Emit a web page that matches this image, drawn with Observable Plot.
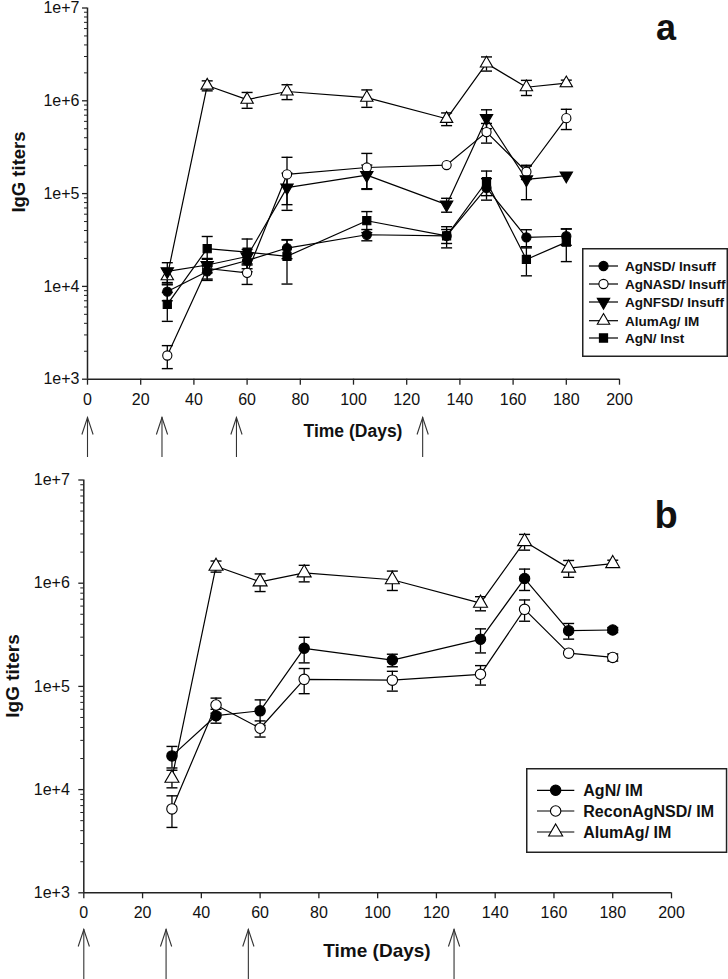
<!DOCTYPE html>
<html><head><meta charset="utf-8">
<script src="https://cdn.jsdelivr.net/npm/d3@7"></script>
<script src="https://cdn.jsdelivr.net/npm/@observablehq/plot@0.6"></script>
<style>
body{margin:0;background:#fff;}
#wrap{position:relative;width:728px;height:979px;overflow:hidden;font-family:"Liberation Sans",Arial,Helvetica,sans-serif;color:#111;}
.abs{position:absolute;line-height:1;white-space:nowrap;font-weight:bold;}
.c{transform:translate(-50%,-50%);}
.rot{transform:translate(-50%,-50%) rotate(-90deg);}
svg.panel text{font-size:16px !important;font-family:"Liberation Sans",Arial,sans-serif !important;fill:#111;}
</style></head><body><div id="wrap"></div>
<script>
// ---------- DATA ----------
const days = [30, 45, 60, 75, 105, 135, 150, 165, 180];
const immunizationDays = [0, 28, 56, 126];
const majorTicks = [1e3, 1e4, 1e5, 1e6, 1e7];
const xTicks = [0, 20, 40, 60, 80, 100, 120, 140, 160, 180, 200];

// Panel a
const seriesA = ["AgNSD/ Insuff", "AgNASD/ Insuff", "AgNFSD/ Insuff", "AlumAg/ IM", "AgN/ Inst"];
const agNSD_Insuff      = [8800, 14500, 19000, 25900, 36000, 35000, 115000, 33800, 34700];
const agNSD_Insuff_err  = [1800, 2500, 3500, 6000, 5000, 6000, 30000, 7000, 7000];
const agNASD_Insuff     = [1800, 15600, 14000, 161000, 191000, 203000, 460000, 172000, 650000];
const agNASD_Insuff_err = [500, 4000, 3500, 85000, 80000, null, 110000, 30000, 160000];
const agNFSD_Insuff     = [14500, 17000, 21000, 116000, 158000, 76000, 650000, 142000, 156000];
const agNFSD_Insuff_err = [3500, 3000, 4000, 50000, 45000, 13000, 150000, 56000, null];
const alumAg_IM         = [12900, 1460000, 1030000, 1260000, 1080000, 640000, 2530000, 1400000, 1550000];
const alumAg_IM_err     = [2500, 180000, 200000, 230000, 230000, 100000, 440000, 260000, 120000];
const agN_Inst          = [6400, 25500, 23400, 21100, 51000, 35000, 135000, 19500, 30000];
const agN_Inst_err      = [2200, 9000, 9000, 10500, 13000, 9000, 40000, 6500, 11500];

// Panel b
const seriesB = ["AgN/ IM", "ReconAgNSD/ IM", "AlumAg/ IM"];
const agN_IM            = [21200, 52000, 58000, 234000, 180000, 286000, 1110000, 347000, 352000];
const agN_IM_err        = [5000, 8000, 16000, 65000, 25000, 75000, 260000, 60000, 20000];
const reconAgNSD_IM     = [6500, 66000, 39300, 117000, 115000, 131000, 558000, 210000, 191000];
const reconAgNSD_IM_err = [2200, 11000, 7000, 32000, 25000, 28000, 130000, null, 15000];

// ---------- SYMBOLS ----------
const sqrt3 = Math.sqrt(3);
const triangleDown = {draw(ctx, size) {
  const y = -Math.sqrt(size / (sqrt3 * 3));
  ctx.moveTo(0, -y * 2); ctx.lineTo(-sqrt3 * y, y); ctx.lineTo(sqrt3 * y, y); ctx.closePath();
}};
const capSym = {draw(ctx, size) { const r = Math.sqrt(size / Math.PI); ctx.moveTo(-r, 0); ctx.lineTo(r, 0); }};
// open "V" arrow head, tip at the anchor point, pointing up
const headSym = {draw(ctx, size) {
  const r = Math.sqrt(size / Math.PI);
  ctx.moveTo(-r * 0.33, r); ctx.lineTo(0, 0); ctx.lineTo(r * 0.33, r);
}};
const styles = {
  "AgNSD/ Insuff":  {symbol: "circle", fill: "black"},
  "AgNASD/ Insuff": {symbol: "circle", fill: "white"},
  "AgNFSD/ Insuff": {symbol: triangleDown, fill: "black"},
  "AlumAg/ IM":     {symbol: "triangle", fill: "white"},
  "AgN/ Inst":      {symbol: "square", fill: "black"},
  "AgN/ IM":        {symbol: "circle", fill: "black"},
  "ReconAgNSD/ IM": {symbol: "circle", fill: "white"}
};

function rowsOf(list) {
  const rows = [];
  for (const [name, vals, errs] of list)
    vals.forEach((v, i) => rows.push({series: name, day: days[i], value: v, err: errs[i]}));
  return rows;
}
const rowsA = rowsOf([
  ["AgNSD/ Insuff", agNSD_Insuff, agNSD_Insuff_err],
  ["AgNASD/ Insuff", agNASD_Insuff, agNASD_Insuff_err],
  ["AgNFSD/ Insuff", agNFSD_Insuff, agNFSD_Insuff_err],
  ["AlumAg/ IM", alumAg_IM, alumAg_IM_err],
  ["AgN/ Inst", agN_Inst, agN_Inst_err]
]);
const rowsB = rowsOf([
  ["AgN/ IM", agN_IM, agN_IM_err],
  ["ReconAgNSD/ IM", reconAgNSD_IM, reconAgNSD_IM_err],
  ["AlumAg/ IM", alumAg_IM, alumAg_IM_err]
]);

const minorTicks = [];
for (let e = 3; e < 7; e++) for (let k = 2; k <= 9; k++) minorTicks.push(k * 10 ** e);

function panel(rows, order, o) {
  const ymin = 1e3, ymax = 1e7;
  const pxPerDecade = (o.height - o.mt - o.mb) / 4;
  const below = px => ymin * 10 ** (-px / pxPerDecade);
  const withErr = rows.filter(d => d.err != null);
  const marks = [
    Plot.ruleX([0], {y1: ymin, y2: ymax, stroke: "#222", strokeWidth: 1.5}),
    Plot.ruleY([ymin], {x1: 0, x2: 200, stroke: "#222", strokeWidth: 1.5}),
    Plot.axisY({ticks: majorTicks, tickSize: 5, tickPadding: o.yPad, tickFormat: d => d.toExponential(0), label: null, stroke: "#222", strokeWidth: 1.3, fontSize: 16}),
    Plot.axisY({ticks: minorTicks, tickSize: 3, tickFormat: () => "", label: null, stroke: "#222"}),
    Plot.axisX({ticks: xTicks, tickSize: 6, tickPadding: 8, label: null, stroke: "#222", strokeWidth: 1.3, fontSize: 16}),
    Plot.ruleX(immunizationDays, {x: d => d, y1: below(o.arrowTip), y2: below(o.arrowTail), stroke: "#333", strokeWidth: 1.1}),
    Plot.dot(immunizationDays, {x: d => d, y: below(o.arrowTip), symbol: headSym, r: 17, stroke: "#333", fill: "none", strokeWidth: 1.1}),
    Plot.line(rows, {x: "day", y: "value", z: "series", stroke: "black", strokeWidth: 1.2}),
    Plot.ruleX(withErr, {x: "day", y1: d => d.value - d.err, y2: d => d.value + d.err, stroke: "black", strokeWidth: 1.3}),
    Plot.dot(withErr, {x: "day", y: d => d.value + d.err, symbol: capSym, r: 5.5, stroke: "black", fill: "none", strokeWidth: 1.4}),
    Plot.dot(withErr, {x: "day", y: d => d.value - d.err, symbol: capSym, r: 5.5, stroke: "black", fill: "none", strokeWidth: 1.4})
  ];
  for (const name of order) {
    const s = styles[name];
    marks.push(Plot.dot(rows.filter(d => d.series === name), {x: "day", y: "value", symbol: s.symbol, r: o.r, fill: s.fill, stroke: "black", strokeWidth: 1.1}));
  }
  const svg = Plot.plot({
    width: 728, height: o.height,
    marginTop: o.mt, marginBottom: o.mb, marginLeft: o.ml, marginRight: o.mr,
    x: {domain: [0, 200], label: null},
    y: {type: "log", domain: [ymin, ymax], label: null},
    style: {fontSize: "16px", fontFamily: "'Liberation Sans', Arial, sans-serif", color: "#111", background: "transparent", overflow: "visible"},
    marks
  });
  svg.classList.add("panel");
  return svg;
}

const wrap = document.getElementById("wrap");
function place(node, top) {
  node.style.position = "absolute"; node.style.left = "0px"; node.style.top = top + "px";
  wrap.appendChild(node);
}
place(panel(rowsA, ["AlumAg/ IM", "AgNASD/ Insuff", "AgNFSD/ Insuff", "AgNSD/ Insuff", "AgN/ Inst"],
  {height: 470, mt: 7.5, mb: 91.3, ml: 87, mr: 109, r: 4.6, yPad: 3, arrowTip: 38.3, arrowTail: 78.3}), 0);
place(panel(rowsB, ["AlumAg/ IM", "ReconAgNSD/ IM", "AgN/ IM"],
  {height: 509, mt: 9.5, mb: 86.7, ml: 83.3, mr: 57, r: 5.2, yPad: 9, arrowTip: 36.7, arrowTail: 95}), 470);

// ---------- TEXT LABELS ----------
function label(text, x, y, size, cls) {
  const d = document.createElement("div");
  d.className = "abs " + cls; d.textContent = text;
  d.style.left = x + "px"; d.style.top = y + "px"; d.style.fontSize = size + "px";
  wrap.appendChild(d);
}
label("IgG titers", 19, 172, 18.5, "rot");
label("Time (Days)", 353, 432, 17.5, "c");
label("a", 666, 28, 36, "c");
label("IgG titers", 12, 676, 19, "rot");
label("Time (Days)", 377, 950, 19, "c");
label("b", 666, 515, 38, "c");

// ---------- LEGENDS ----------
function legend(names, o) {
  const svg = d3.create("svg").attr("width", o.w).attr("height", o.h)
    .style("position", "absolute").style("left", o.x + "px").style("top", o.y + "px").style("overflow", "visible");
  svg.append("rect").attr("x", 0.75).attr("y", 0.75).attr("width", o.w - 1.5).attr("height", o.h - 1.5)
    .attr("fill", "white").attr("stroke", "#222").attr("stroke-width", 1.5);
  names.forEach((name, i) => {
    const cy = o.rows[i];
    const s = styles[name];
    svg.append("line").attr("x1", o.l0).attr("x2", o.l1).attr("y1", cy).attr("y2", cy).attr("stroke", "black").attr("stroke-width", 1.2);
    const sym = typeof s.symbol === "string" ? {circle: d3.symbolCircle, triangle: d3.symbolTriangle, square: d3.symbolSquare}[s.symbol] : s.symbol;
    svg.append("path").attr("d", d3.symbol(sym, o.r * o.r * Math.PI)()).attr("transform", `translate(${(o.l0 + o.l1) / 2},${cy})`)
      .attr("fill", s.fill).attr("stroke", "black").attr("stroke-width", 1.1);
    svg.append("text").attr("x", o.tx).attr("y", cy).attr("dy", "0.36em").text(name)
      .attr("font-weight", "bold").attr("font-size", o.fs).attr("font-family", "'Liberation Sans', Arial, sans-serif").attr("fill", "#111");
  });
  wrap.appendChild(svg.node());
}
legend(seriesA, {x: 582, y: 248, w: 146, h: 109, rows: [18, 36, 54, 72.7, 90], l0: 7, l1: 36, tx: 43, fs: 13.5, r: 4.6});
legend(seriesB, {x: 525.7, y: 767.7, w: 201.3, h: 85, rows: [22.3, 43, 64], l0: 11, l1: 48.3, tx: 57.3, fs: 16, r: 5.2});
</script></body></html>
